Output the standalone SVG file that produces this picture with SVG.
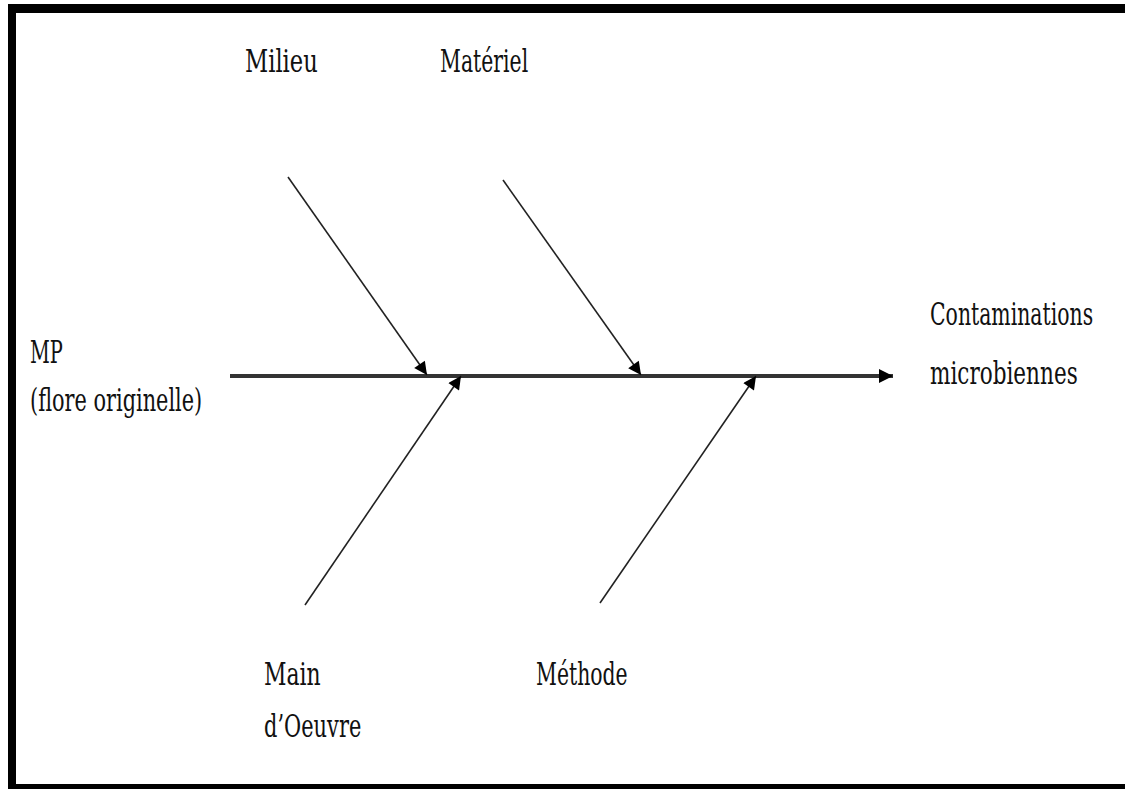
<svg xmlns="http://www.w3.org/2000/svg" width="1125" height="789" viewBox="0 0 1125 789">
<defs>
<style>
.t{font-family:"DejaVu Serif","Liberation Serif",serif;font-size:31px;fill:#111}
.br{stroke:#222;stroke-width:1.6;fill:none}
.sp{stroke:#333;stroke-width:4;fill:none}
</style>
<marker id="ah" viewBox="0 0 10 10" refX="10" refY="5" markerWidth="16" markerHeight="13" markerUnits="userSpaceOnUse" orient="auto">
<path d="M0,0 L10,5 L0,10 z" fill="#000"/>
</marker>
<marker id="ahm" viewBox="0 0 10 10" refX="10" refY="5" markerWidth="14" markerHeight="14" markerUnits="userSpaceOnUse" orient="auto">
<path d="M0,0 L10,5 L0,10 z" fill="#000"/>
</marker>
</defs>
<rect width="1125" height="789" fill="#fff"/>
<g id="frame">
<rect x="8" y="4" width="1117" height="9" fill="#000"/>
<rect x="8" y="4" width="8" height="785" fill="#000"/>
<rect x="8" y="784" width="1117" height="5" fill="#000"/>
</g>
<g id="connectors">
<line class="sp" x1="230" y1="376" x2="893" y2="376" marker-end="url(#ahm)"/>
<line class="br" x1="288" y1="177" x2="427" y2="375" marker-end="url(#ah)"/>
<line class="br" x1="503" y1="180" x2="641" y2="375" marker-end="url(#ah)"/>
<line class="br" x1="305" y1="605" x2="461" y2="376" marker-end="url(#ah)"/>
<line class="br" x1="600" y1="603" x2="756" y2="376" marker-end="url(#ah)"/>
</g>
<g id="milieu"><text class="t" transform="translate(245,72) scale(0.7,1)" textLength="104" lengthAdjust="spacingAndGlyphs">Milieu</text></g>
<g id="materiel"><text class="t" transform="translate(440,72) scale(0.7,1)" textLength="126" lengthAdjust="spacingAndGlyphs">Matériel</text></g>
<g id="mp">
<text class="t" transform="translate(30,363) scale(0.7,1)" textLength="47" lengthAdjust="spacingAndGlyphs">MP</text>
<text class="t" transform="translate(30,411) scale(0.7,1)" textLength="246" lengthAdjust="spacingAndGlyphs">(flore originelle)</text>
</g>
<g id="contaminations">
<text class="t" transform="translate(930,325) scale(0.7,1)" textLength="233" lengthAdjust="spacingAndGlyphs">Contaminations</text>
<text class="t" transform="translate(930,384) scale(0.7,1)" textLength="211" lengthAdjust="spacingAndGlyphs">microbiennes</text>
</g>
<g id="main-oeuvre">
<text class="t" transform="translate(264,685) scale(0.7,1)" textLength="81" lengthAdjust="spacingAndGlyphs">Main</text>
<text class="t" transform="translate(264,737) scale(0.7,1)" textLength="139" lengthAdjust="spacingAndGlyphs">d’Oeuvre</text>
</g>
<g id="methode"><text class="t" transform="translate(536,685) scale(0.7,1)" textLength="131" lengthAdjust="spacingAndGlyphs">Méthode</text></g>
</svg>
